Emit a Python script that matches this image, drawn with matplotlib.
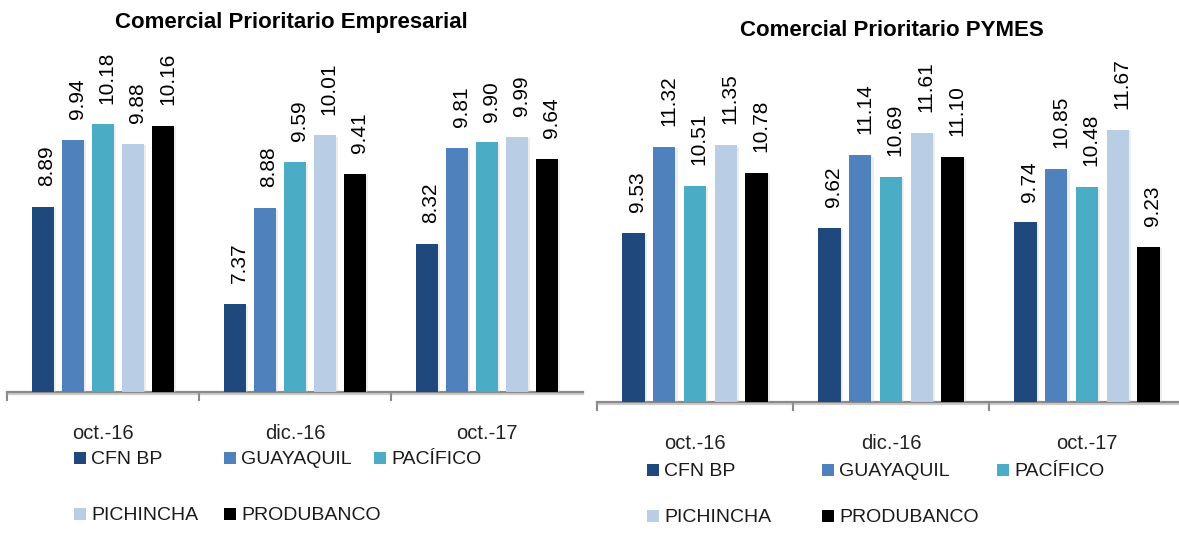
import matplotlib
matplotlib.use("Agg")
import matplotlib.pyplot as plt
import matplotlib.patheffects as pe
from matplotlib.patches import Rectangle
import numpy as np

# data
periods = ["oct.-16", "dic.-16", "oct.-17"]
banks = ["CFN BP", "GUAYAQUIL", "PACÍFICO", "PICHINCHA", "PRODUBANCO"]
colors = ["#1F497D", "#4F81BD", "#4BACC6", "#B9CDE5", "#000000"]

# rows = bank, cols = period
empresarial = [
    [8.89, 7.37, 8.32],
    [9.94, 8.88, 9.81],
    [10.18, 9.59, 9.90],
    [9.88, 10.01, 9.99],
    [10.16, 9.41, 9.64],
]
pymes = [
    [9.53, 9.62, 9.74],
    [11.32, 11.14, 10.85],
    [10.51, 10.69, 10.48],
    [11.35, 11.61, 11.67],
    [10.78, 11.10, 9.23],
]

NARROW = ["Liberation Sans Narrow", "Liberation Sans", "DejaVu Sans"]
W, H = 1179, 533

fig = plt.figure(figsize=(W / 100, H / 100), dpi=100)


def px(x0, y0, w, h):
    # pixel box (top-left origin) -> figure fraction
    return [x0 / W, (H - y0 - h) / H, w / W, h / H]


def panel(box, values, ymax, title, title_xy, legend_xy, legend_dx, legend_dy):
    ax = fig.add_axes(box)
    x = np.arange(len(periods)) + 0.5
    pitch, width = 0.157, 0.115
    for j, (name, col) in enumerate(zip(banks, colors)):
        vals = values[j]
        bars = ax.bar(x + (j - 2) * pitch, vals, width, bottom=0, color=col,
                      zorder=3)
        for b in bars:
            b.set_path_effects([pe.SimplePatchShadow(offset=(1.5, -1), shadow_rgbFace="0.8", alpha=0.35),
                                pe.Normal()])
        for xi, v in zip(x + (j - 2) * pitch, vals):
            ax.annotate(f"{v:.2f}", (xi, v), xytext=(3, 15), textcoords="offset points",
                        rotation=90, ha="center", va="bottom", fontsize=15,
                        family=["Liberation Sans", "DejaVu Sans"], color="black")
    ax.set_ylim(6, ymax)
    ax.set_xlim(0, 3)
    for s in ["left", "top", "right"]:
        ax.spines[s].set_visible(False)
    ax.spines["bottom"].set_color("#8a8a8a")
    ax.spines["bottom"].set_linewidth(1.6)
    ax.spines["bottom"].set_path_effects([pe.SimpleLineShadow(offset=(0, -1.5), shadow_color="0.6", alpha=0.5),
                                          pe.Normal()])
    ax.set_yticks([])
    ax.set_xticks(x)
    ax.set_xticklabels(periods, fontsize=14.5, family=NARROW, color="#222222")
    ax.set_xticks([0, 1, 2], minor=True)
    ax.tick_params(axis="x", which="major", length=0, pad=23)
    ax.tick_params(axis="x", which="minor", length=6.5, width=1.5, color="#8a8a8a", direction="out")

    fig.text(title_xy[0] / W, 1 - title_xy[1] / H, title, ha="center", va="center",
             fontsize=16, fontweight="bold", family=NARROW)

    # legend laid out like the Excel one: 3 equal columns, 2 rows
    lx, ly = legend_xy
    for k, (name, col) in enumerate(zip(banks, colors)):
        r, c = divmod(k, 3)
        sx = lx + c * legend_dx
        sy = ly + r * legend_dy
        fig.patches.append(Rectangle((sx / W, 1 - (sy + 12) / H), 12 / W, 12 / H,
                                     transform=fig.transFigure, facecolor=col,
                                     edgecolor="none"))
        fig.text((sx + 17) / W, 1 - (sy + 8) / H, name, ha="left", va="center",
                 fontsize=14, family=NARROW, color="#1a1a1a")
    return ax


panel(px(7, 40, 576, 352), empresarial, 11.5, "Comercial Prioritario Empresarial",
      (291, 22), (74, 452), 150, 56)
panel(px(597, 42, 588, 360), pymes, 13.5, "Comercial Prioritario PYMES",
      (892, 31), (647, 464), 175, 46)

fig.savefig("out.png", dpi=100, facecolor="white")
